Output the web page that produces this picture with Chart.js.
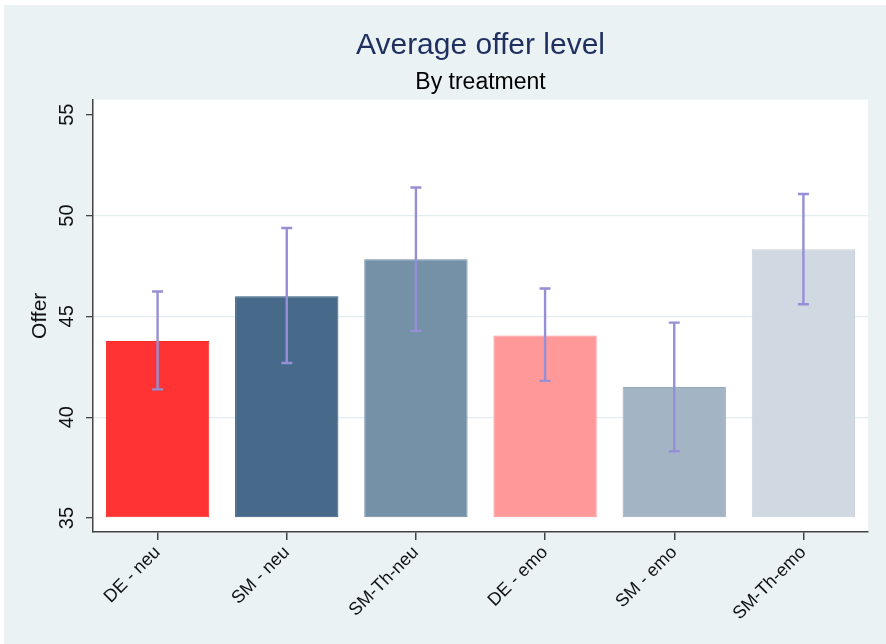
<!DOCTYPE html>
<html>
<head>
<meta charset="utf-8">
<script src="https://cdn.jsdelivr.net/npm/chart.js@4"></script>
<style>
  body { margin: 0; background: #eaf2f3; }
  #wrap { width: 886px; height: 644px; }
</style>
</head>
<body>
<div id="wrap"><canvas id="offer-chart" width="886" height="644"></canvas></div>
<script>
// values
const treatments = ['DE - neu', 'SM - neu', 'SM-Th-neu', 'DE - emo', 'SM - emo', 'SM-Th-emo'];
const meanOffer = [43.78, 46.0, 47.83, 44.05, 41.5, 48.33];
const ciLow = [41.38, 42.69, 44.28, 41.8, 38.31, 45.6];
const ciHigh = [46.23, 49.38, 51.39, 46.38, 44.69, 51.07];
const yTicks = [35, 40, 45, 50, 55];
const barBase = 35;

const barColors = ['#ff3333', '#476a8a', '#7591a8', '#ff9999', '#a3b4c5', '#d0d9e2'];
const barBorders = ['#f52a2a', '#31587b', '#6b879f', '#fb9090', '#97aabc', '#c6d0da'];

const bg = '#eaf2f3';
const font = 'Liberation Sans, Arial, sans-serif';

// stata style background: light outer region, white plot region
const backdrop = {
    id: 'backdrop',
    beforeDraw(chart) {
        const {ctx, chartArea: a, width, height} = chart;
        ctx.save();
        ctx.fillStyle = bg;
        ctx.fillRect(0, 0, width, height);
        ctx.fillStyle = '#ffffff';
        ctx.fillRect(0, 0, width, 5);
        ctx.fillRect(0, 0, 4, height);
        ctx.fillRect(a.left, a.top, a.right - a.left, a.bottom - a.top);
        ctx.restore();
    }
};

const errorBars = {
    id: 'errorBars',
    afterDatasetsDraw(chart) {
        const {ctx} = chart;
        const y = chart.scales.y;
        const bars = chart.getDatasetMeta(0).data;
        ctx.save();
        ctx.strokeStyle = '#968fd6';
        ctx.lineWidth = 2.4;
        bars.forEach((bar, i) => {
            const top = y.getPixelForValue(ciHigh[i]);
            const bot = y.getPixelForValue(ciLow[i]);
            ctx.beginPath();
            ctx.moveTo(bar.x, top);
            ctx.lineTo(bar.x, bot);
            ctx.moveTo(bar.x - 5.5, top);
            ctx.lineTo(bar.x + 5.5, top);
            ctx.moveTo(bar.x - 5.5, bot);
            ctx.lineTo(bar.x + 5.5, bot);
            ctx.stroke();
        });
        ctx.restore();
    }
};

// vertical y tick labels (chart.js only rotates x labels)
const yLabels = {
    id: 'yLabels',
    afterDraw(chart) {
        const {ctx} = chart;
        const y = chart.scales.y;
        ctx.save();
        ctx.fillStyle = '#111';
        ctx.font = '20px ' + font;
        ctx.textAlign = 'center';
        ctx.textBaseline = 'middle';
        yTicks.forEach(v => {
            ctx.save();
            ctx.translate(67, y.getPixelForValue(v));
            ctx.rotate(-Math.PI / 2);
            ctx.fillText(String(v), 0, 0);
            ctx.restore();
        });
        ctx.restore();
    }
};

new Chart(document.getElementById('offer-chart'), {
    type: 'bar',
    data: {
        labels: treatments,
        datasets: [{
            data: meanOffer,
            base: barBase,
            backgroundColor: barColors,
            borderColor: barBorders,
            borderWidth: 1,
            borderSkipped: false,
            barPercentage: 0.8,
            categoryPercentage: 1.0
        }]
    },
    options: {
        responsive: false,
        animation: false,
        layout: {padding: {top: 0, left: 0, right: 18, bottom: 0}},
        plugins: {
            legend: {display: false},
            tooltip: {enabled: false},
            title: {
                display: true,
                fullSize: false,
                text: 'Average offer level',
                color: '#1f2f5f',
                font: {family: font, size: 30, weight: 'normal'},
                padding: {top: 28, bottom: 2}
            },
            subtitle: {
                display: true,
                fullSize: false,
                text: 'By treatment',
                color: '#000',
                font: {family: font, size: 23, weight: 'normal'},
                padding: {top: 3, bottom: 3}
            }
        },
        scales: {
            x: {
                grid: {
                    offset: false,
                    drawOnChartArea: false,
                    drawTicks: true,
                    tickLength: 8,
                    tickColor: '#444',
                    lineWidth: 1.5
                },
                border: {color: '#444', width: 1.5},
                ticks: {
                    autoSkip: false,
                    minRotation: 45,
                    maxRotation: 45,
                    padding: 2,
                    color: '#111',
                    font: {family: font, size: 18}
                },
                afterFit(scale) { scale.height = 112; }
            },
            y: {
                min: 34.306,
                max: 55.75,
                afterBuildTicks(scale) { scale.ticks = yTicks.map(v => ({value: v})); },
                grid: {
                    color: ctx => (ctx.tick && ctx.tick.value > 35 && ctx.tick.value < 55) ? '#e3ecef' : 'rgba(0,0,0,0)',
                    lineWidth: 1.3,
                    drawTicks: true,
                    tickLength: 7,
                    tickColor: '#444',
                    tickWidth: 1.3
                },
                border: {color: '#444', width: 1.5},
                ticks: {display: false},
                title: {
                    display: true,
                    text: 'Offer',
                    color: '#111',
                    font: {family: font, size: 21},
                    padding: {top: 28, bottom: 0}
                },
                afterFit(scale) { scale.width = 93; }
            }
        }
    },
    plugins: [backdrop, errorBars, yLabels]
});
</script>
</body>
</html>
